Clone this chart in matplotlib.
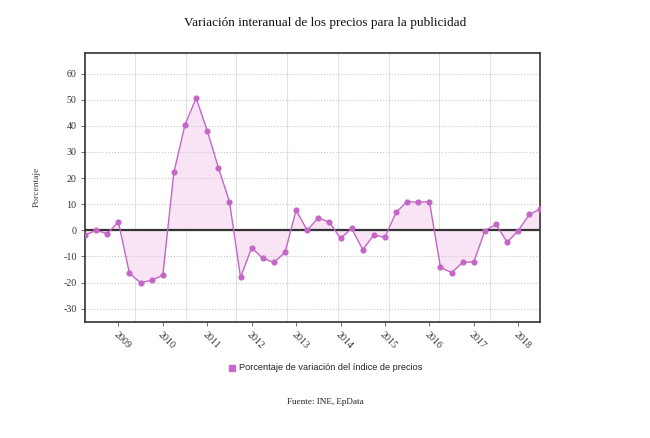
"""
Variación interanual de los precios para la publicidad (quarterly, 2008-2018).
Saves out.png.
"""

import matplotlib

matplotlib.use("Agg")

import matplotlib.pyplot as plt
import numpy as np

# quarterly year-on-year change (%)
VALUES = [
    -1.8, 0.0, -1.3, 3.2,
    -16.5, -20.1, -19.1, -17.2,
    22.2, 40.4, 50.6, 38.2,
    24.0, 11.0, -18.0, -6.7,
    -10.7, -12.3, -8.5, 7.7,
    0.0, 4.8, 3.1, -3.1,
    0.7, -7.4, -1.8, -2.7,
    6.9, 11.0, 10.7, 11.0,
    -14.2, -16.2, -12.3, -12.1,
    -0.1, 2.3, -4.6, -0.1,
    6.1, 8.2,
]
YEAR_LABELS = ["2009", "2010", "2011", "2012", "2013",
               "2014", "2015", "2016", "2017", "2018"]
Y_TICKS = [-30, -20, -10, 0, 10, 20, 30, 40, 50, 60]

TITLE = "Variación interanual de los precios para la publicidad"
SERIES_LABEL = "Porcentaje de variación del índice de precios"
SOURCE = "Fuente: INE, EpData"

LINE_COLOR = "#c466c6"
FILL_COLOR = "#f8e4f5"
SERIF = ["Liberation Serif", "DejaVu Serif"]
SANS = ["Liberation Sans", "DejaVu Sans"]


def main() -> None:
    values = np.array(VALUES, dtype=float)
    x = np.arange(len(values))

    fig = plt.figure(figsize=(6.5, 4.38), dpi=100)
    ax = fig.add_axes([0.1308, 0.2655, 0.7007, 0.6142])

    ax.fill_between(x, values, 0, color=FILL_COLOR, linewidth=0, zorder=1)
    ax.plot(x, values, color=LINE_COLOR, linewidth=1.0, marker="o",
            markersize=3.4, zorder=3)
    ax.axhline(0, color="#333333", linewidth=1.6, zorder=2)

    ax.set_xlim(0, len(values) - 1)
    ax.set_ylim(-35, 68)

    # horizontal grid: dotted; vertical grid: separate light lines
    ax.set_yticks(Y_TICKS)
    ax.set_yticklabels([str(v) for v in Y_TICKS], family=SERIF, fontsize=7.2)
    ax.grid(axis="y", color="#c8c8c8", linestyle=":", linewidth=0.8)
    for gx in np.linspace(4.5, 36.45, 8):
        ax.axvline(gx, color="#e2e2e2", linewidth=0.8, zorder=0)

    year_pos = np.arange(3, len(values), 4)[:len(YEAR_LABELS)]
    ax.set_xticks(year_pos)
    ax.set_xticklabels(YEAR_LABELS, family=SERIF, fontsize=7.2,
                       rotation=-45, ha="left", va="top",
                       rotation_mode="anchor")
    ax.tick_params(axis="both", length=3, width=0.6, color="#555555",
                   labelcolor="#333333", pad=3)

    for side in ["left", "bottom", "top", "right"]:
        ax.spines[side].set_color("#333333")
        ax.spines[side].set_linewidth(1.2)

    ax.set_ylabel("Porcentaje", family=SERIF, fontsize=6.8, color="#444444",
                  labelpad=16)

    fig.text(0.5, 0.947, TITLE, ha="center", va="center", family=SERIF,
             fontsize=9.5, color="#111111")

    # legend marker + text below the plot
    fig.patches.append(plt.Rectangle((0.352, 0.153), 0.0095, 0.014,
                                     transform=fig.transFigure,
                                     color="#cc66cc"))
    fig.text(0.367, 0.161, SERIES_LABEL, ha="left", va="center", family=SANS,
             fontsize=6.6, color="#222222")
    fig.text(0.5, 0.082, SOURCE, ha="center", va="center", family=SERIF,
             fontsize=6.6, color="#222222")

    fig.savefig("out.png", dpi=100)
    plt.close(fig)


if __name__ == "__main__":
    main()
